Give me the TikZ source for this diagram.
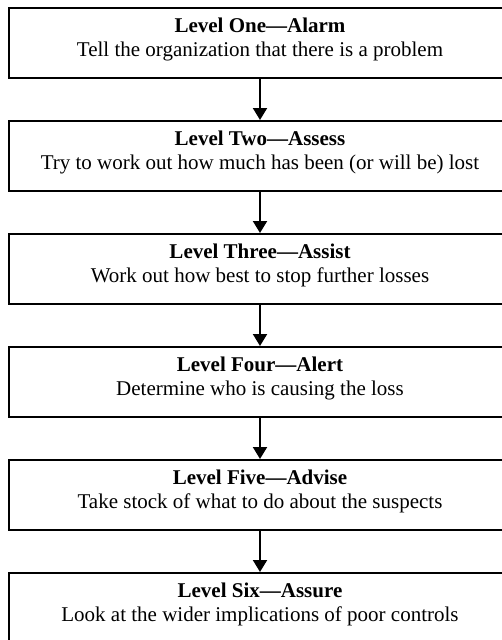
\documentclass[tikz,border=0pt]{standalone}
\usepackage{fontspec}
\setmainfont{Liberation Serif}
\usetikzlibrary{arrows.meta}
\begin{document}
\begin{tikzpicture}[x=1pt,y=1pt,
  levelbox/.style={draw=black, line width=2pt, minimum width=502pt,
    minimum height=70pt, inner sep=0pt, fill=white},
  leveltitle/.style={anchor=base, inner sep=0pt,
    font=\fontsize{21}{25}\selectfont\bfseries},
  leveltext/.style={anchor=base, inner sep=0pt,
    font=\fontsize{21}{25}\selectfont},
  flow/.style={line width=2pt, -{Triangle[width=14pt,length=12pt]}}]
\useasboundingbox (0,0) rectangle (502,-640);
\clip (0,0) rectangle (502,-640);
\foreach \i/\t/\d in {
  0/{Level One---Alarm}/{Tell the organization that there is a problem},
  1/{Level Two---Assess}/{Try to work out how much has been (or will be) lost},
  2/{Level Three---Assist}/{Work out how best to stop further losses},
  3/{Level Four---Alert}/{Determine who is causing the loss},
  4/{Level Five---Advise}/{Take stock of what to do about the suspects},
  5/{Level Six---Assure}/{Look at the wider implications of poor controls}} {
  \node[levelbox] (L\i) at (260, {-(8+113*\i+35)}) {};
  \node[leveltitle] (T\i) at ([yshift=-25pt]L\i.north) {\t};
  \node[leveltext] (D\i) at ([yshift=-49.5pt]L\i.north) {\d};
}
\foreach \i [evaluate=\i as \j using int(\i+1)] in {0,...,4}
  \draw[flow] (L\i.south) -- (L\j.north);
\end{tikzpicture}
\end{document}
